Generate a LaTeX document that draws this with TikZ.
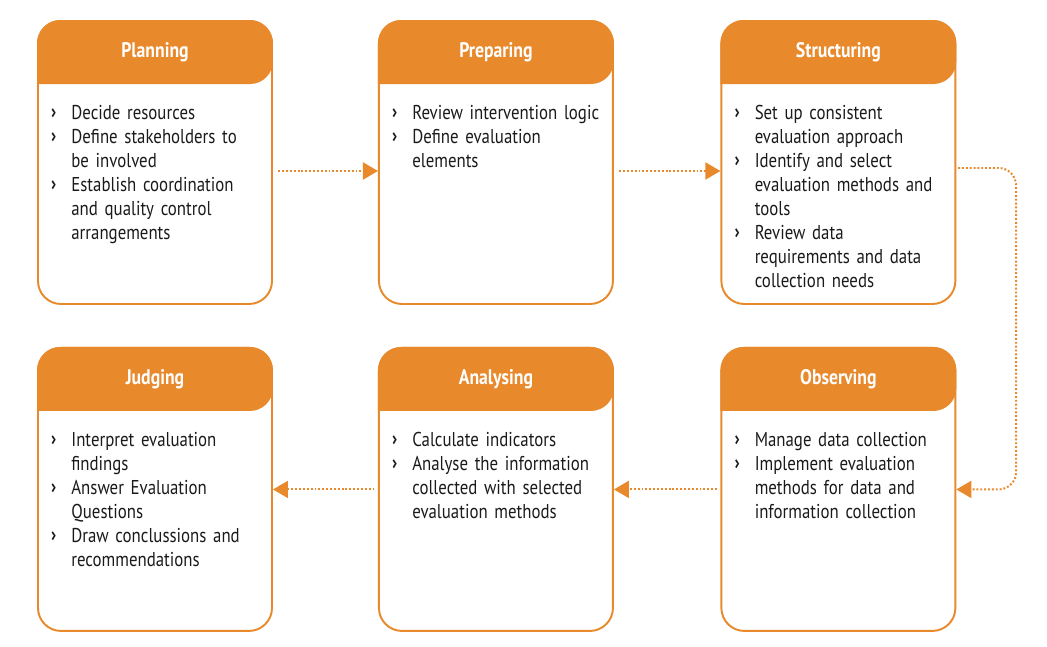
\documentclass[tikz,border=0pt]{standalone}
\usepackage{fontspec}
\setmainfont{PT Sans}[FakeStretch=0.84]
\usepackage{enumitem}
\usetikzlibrary{positioning,arrows.meta}
\definecolor{stageorange}{RGB}{232,137,43}
\definecolor{stagetext}{RGB}{26,26,26}
\setlist[itemize]{label={\raisebox{0.5pt}{\bfseries ›}}, nosep, leftmargin=0.48cm, labelsep=0.3cm, labelwidth=0.18cm}

\begin{document}
\begin{tikzpicture}[stage/.style={draw=stageorange, line width=1.1pt, rounded corners=0.46cm, minimum width=4.68cm, minimum height=5.66cm, inner sep=0pt},
  title/.style={text=white, font=\bfseries\fontsize{12}{14}\selectfont},
  points/.style={anchor=north west, inner sep=0pt, text width=5cm, align=left, text=stagetext, font=\fontsize{11.4}{13.66}\selectfont},
  flow/.style={stageorange, line width=1.1pt, dash pattern=on 1.1pt off 1.1pt, -{Triangle[length=0.3cm, width=0.34cm]}}]

  \useasboundingbox (0,0) rectangle (20.94,-12.94);

  % First row
  \node[stage] (P1) at (3.1,-3.25) {};
  \node[stage, right=2.1cm of P1] (P2) {};
  \node[stage, right=2.13cm of P2] (P3) {};

  % Second row
  \node[stage, below=0.84cm of P3] (P4) {};
  \node[stage, left=2.13cm of P4] (P5) {};
  \node[stage, left=2.1cm of P5] (P6) {};

  % Headers
  \fill[stageorange] ([yshift=-1.28cm]P1.north west) [rounded corners=0.46cm] |- (P1.north) -| ([yshift=-1.28cm]P1.north east) [sharp corners] -- cycle;
  \fill[stageorange] ([yshift=-1.28cm]P2.north west) [rounded corners=0.46cm] |- (P2.north) -| ([yshift=-1.28cm]P2.north east) [sharp corners] -- cycle;
  \fill[stageorange] ([yshift=-1.28cm]P3.north west) [rounded corners=0.46cm] |- (P3.north) -| ([yshift=-1.28cm]P3.north east) [sharp corners] -- cycle;
  \fill[stageorange] ([yshift=-1.28cm]P4.north west) [rounded corners=0.46cm] |- (P4.north) -| ([yshift=-1.28cm]P4.north east) [sharp corners] -- cycle;
  \fill[stageorange] ([yshift=-1.28cm]P5.north west) [rounded corners=0.46cm] |- (P5.north) -| ([yshift=-1.28cm]P5.north east) [sharp corners] -- cycle;
  \fill[stageorange] ([yshift=-1.28cm]P6.north west) [rounded corners=0.46cm] |- (P6.north) -| ([yshift=-1.28cm]P6.north east) [sharp corners] -- cycle;

  \node[title] (T1) at ([yshift=-0.64cm]P1.north) {Planning};
  \node[title] (T2) at ([yshift=-0.64cm]P2.north) {Preparing};
  \node[title] (T3) at ([yshift=-0.64cm]P3.north) {Structuring};
  \node[title] (T4) at ([yshift=-0.64cm]P4.north) {Observing};
  \node[title] (T5) at ([yshift=-0.64cm]P5.north) {Analysing};
  \node[title] (T6) at ([yshift=-0.64cm]P6.north) {Judging};

  % Task lists
  \node[points] (L1) at ([xshift=0.2cm, yshift=-1.5cm]P1.north west) {\begin{itemize}
    \item Decide resources
    \item Define stakeholders to\\ be involved
    \item Establish coordination\\ and quality control\\ arrangements
  \end{itemize}};
  \node[points] (L2) at ([xshift=0.2cm, yshift=-1.5cm]P2.north west) {\begin{itemize}
    \item Review intervention logic
    \item Define evaluation\\ elements
  \end{itemize}};
  \node[points] (L3) at ([xshift=0.2cm, yshift=-1.5cm]P3.north west) {\begin{itemize}
    \item Set up consistent\\ evaluation approach
    \item Identify and select\\ evaluation methods and\\ tools
    \item Review data\\ requirements and data\\ collection needs
  \end{itemize}};
  \node[points] (L4) at ([xshift=0.2cm, yshift=-1.5cm]P4.north west) {\begin{itemize}
    \item Manage data collection
    \item Implement evaluation\\ methods for data and\\ information collection
  \end{itemize}};
  \node[points] (L5) at ([xshift=0.2cm, yshift=-1.5cm]P5.north west) {\begin{itemize}
    \item Calculate indicators
    \item Analyse the information\\ collected with selected\\ evaluation methods
  \end{itemize}};
  \node[points] (L6) at ([xshift=0.2cm, yshift=-1.5cm]P6.north west) {\begin{itemize}
    \item Interpret evaluation\\ findings
    \item Answer Evaluation\\ Questions
    \item Draw conclussions and\\ recommendations
  \end{itemize}};

  % Arrows
  \draw[flow] ([xshift=3pt, yshift=-0.17cm]P1.east) -- ([yshift=-0.17cm]P2.west);
  \draw[flow] ([xshift=3pt, yshift=-0.17cm]P2.east) -- ([yshift=-0.17cm]P3.west);
  \draw[flow, rounded corners=0.35cm] ([xshift=1pt, yshift=-0.11cm]P3.east) -- ++(1.16,0) |- (P4.east);
  \draw[flow] ([xshift=-2pt]P4.west) -- (P5.east);
  \draw[flow] ([xshift=-2pt]P5.west) -- (P6.east);

\end{tikzpicture}
\end{document}
